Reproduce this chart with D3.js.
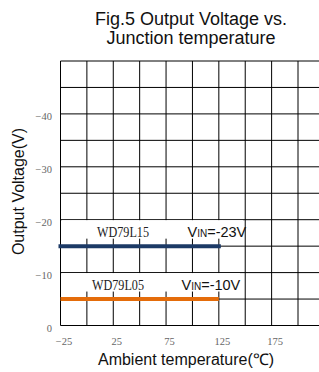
<!DOCTYPE html>
<html><head><meta charset="utf-8">
<script src="https://cdn.jsdelivr.net/npm/d3@7"></script>
<style>body{margin:0;background:#fff}svg{display:block}</style>
</head><body>
<script>
// ---- data ----
const temps = [-25, 0, 25, 50, 75, 100, 125];
const wd79l15 = [-15, -15, -15, -15, -15, -15, -15];
const wd79l05 = [-5, -5, -5, -5, -5, -5, -5];
const seriesNames = ["WD79L15", "WD79L05"];
const seriesVin = ["=-23V", "=-10V"];
const xTickValues = [-25, 25, 75, 125, 175];
const yTickValues = [0, -10, -20, -30, -40];
const xGridValues = [-25, 0, 25, 50, 75, 100, 125, 150, 175, 200, 225];
const yGridValues = [0, -5, -10, -15, -20, -25, -30, -35, -40, -45, -50];
const titleLines = ["Fig.5 Output Voltage vs.", "Junction temperature"];
const xTitle = "Ambient temperature(℃)";
const yTitle = "Output Voltage(V)";

const W = 319, H = 372;
const svg = d3.select("body").append("svg").attr("width", W).attr("height", H);

const x = d3.scaleLinear().domain([-25, 225]).range([60.5, 324.4]);
const y = d3.scaleLinear().domain([0, -50]).range([325.5, 61]);

const sans = "'Liberation Sans', Arial, sans-serif";
const serif = "'Liberation Serif', 'Times New Roman', serif";

// grid
const grid = svg.append("g");
grid.selectAll("line.v").data(xGridValues).join("line")
  .attr("x1", d => x(d)).attr("x2", d => x(d))
  .attr("y1", y(-50)).attr("y2", y(0))
  .attr("stroke", "#000").attr("stroke-width", 1);
grid.selectAll("line.h").data(yGridValues).join("line")
  .attr("x1", x(-25)).attr("x2", x(225))
  .attr("y1", d => y(d)).attr("y2", d => y(d))
  .attr("stroke", "#000").attr("stroke-width", 1);

// series
const series = [
  {name: seriesNames[0], vin: seriesVin[0], vals: wd79l15, color: "#1c3a66"},
  {name: seriesNames[1], vin: seriesVin[1], vals: wd79l05, color: "#e46c0a"}
];
const line = d3.line().x((d, i) => x(temps[i])).y(d => y(d));

series.forEach((s, k) => {
  const yv = y(s.vals[0]);
  const base = yv - 9;
  // white label box
  svg.append("rect")
    .attr("x", x(-25) + 1.5).attr("y", base - 17)
    .attr("width", (k === 0 ? 243 : 240) - x(-25) - 1.5).attr("height", 18.5)
    .attr("fill", "#fff");
  svg.append("text")
    .attr("x", k === 0 ? 97 : 92).attr("y", base)
    .attr("font-family", serif).attr("font-size", 14)
    .attr("textLength", 52).attr("lengthAdjust", "spacingAndGlyphs")
    .attr("fill", "#222")
    .text(s.name);
  const t = svg.append("text")
    .attr("x", k === 0 ? 187.5 : 181.5).attr("y", base)
    .attr("font-family", sans).attr("font-size", 14.5).attr("fill", "#111");
  t.append("tspan").text("V");
  t.append("tspan").attr("font-size", 10).text("IN");
  t.append("tspan").text(s.vin);
  svg.append("path").datum(s.vals)
    .attr("d", line).attr("fill", "none")
    .attr("stroke", s.color).attr("stroke-width", 4)
    .attr("stroke-linecap", k === 0 ? "square" : "butt");
});

// axis tick labels
const xAxis = d3.axisBottom(x).tickValues(xTickValues).tickSize(0).tickPadding(0)
  .tickFormat(d => d3.format("")(d).replace("-", "\u2212"));
const gx = svg.append("g").attr("transform", "translate(3,345)").call(xAxis);
gx.select(".domain").remove();
gx.selectAll("text").attr("dy", 0).attr("font-family", serif).attr("font-size", 10.5).attr("fill", "#666");

const yAxis = d3.axisLeft(y).tickValues(yTickValues).tickSize(0).tickPadding(0)
  .tickFormat(d => d3.format("")(d).replace("-", "\u2212"));
const gy = svg.append("g").attr("transform", "translate(52,6)").call(yAxis);
gy.select(".domain").remove();
gy.selectAll("text").attr("dy", 0).attr("font-family", serif).attr("font-size", 10.5).attr("fill", "#666");

// titles
svg.append("g").selectAll("text").data(titleLines).join("text")
  .attr("x", 191).attr("y", (d, i) => 24.5 + i * 19)
  .attr("text-anchor", "middle").attr("font-family", sans).attr("font-size", 18).attr("fill", "#111")
  .text(d => d);
svg.append("text").attr("x", 186).attr("y", 365)
  .attr("text-anchor", "middle").attr("font-family", sans).attr("font-size", 16).attr("fill", "#111")
  .text(xTitle);
svg.append("text").attr("transform", "translate(23.5,191.5) rotate(-90)")
  .attr("text-anchor", "middle").attr("font-family", sans).attr("font-size", 16).attr("fill", "#111")
  .text(yTitle);
</script>
</body></html>
